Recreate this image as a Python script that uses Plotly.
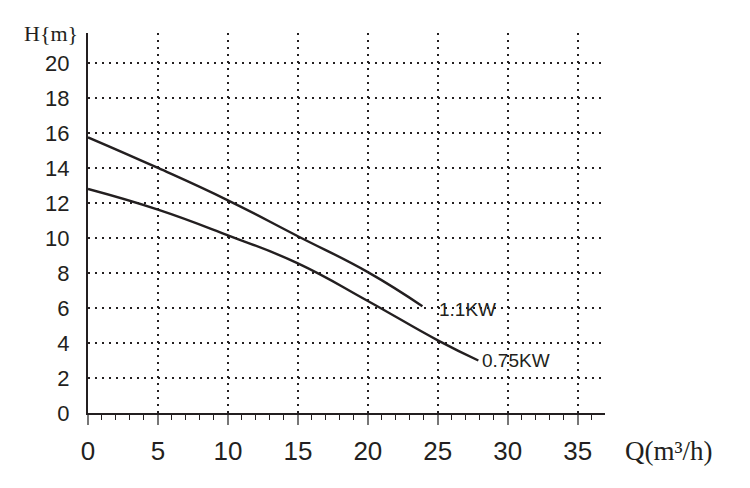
import plotly.graph_objects as go

# pump curves: flow Q (m3/h) vs head H (m)
q_11kw = [0, 5, 10, 15, 20, 23.9]
h_11kw = [15.75, 14.0, 12.15, 10.1, 8.05, 6.1]

q_075kw = [0, 5, 10, 15, 20, 25, 27.9]
h_075kw = [12.8, 11.62, 10.15, 8.55, 6.4, 4.15, 3.0]

curve_names = ["1.1KW", "0.75KW"]
x_ticks = [0, 5, 10, 15, 20, 25, 30, 35]
y_ticks = [0, 2, 4, 6, 8, 10, 12, 14, 16, 18, 20]

INK = "#231f20"

fig = go.Figure()
curves = [(q_11kw, h_11kw, curve_names[0], 15, -3),
          (q_075kw, h_075kw, curve_names[1], 2, 0)]
for q, h, name, dx, dy in curves:
    fig.add_trace(go.Scatter(
        x=q, y=h, mode="lines", name=name,
        line=dict(color=INK, width=2.4, shape="spline", smoothing=1.3),
        hoverinfo="x+y+name"
    ))
    # label at the end of each curve
    fig.add_annotation(
        x=q[-1], y=h[-1], text=name, showarrow=False,
        xanchor="left", yanchor="middle", xshift=dx, yshift=dy,
        font=dict(family="Liberation Sans, Arial", size=19, color=INK)
    )

# axis titles
fig.add_annotation(x=-0.015, y=1.0, xref="paper", yref="paper", text="H{m}",
                   showarrow=False, xanchor="right", yanchor="middle",
                   font=dict(family="Liberation Serif, serif", size=22, color=INK))
fig.add_annotation(x=1.035, y=-0.1, xref="paper", yref="paper", text="Q(m³/h)",
                   showarrow=False, xanchor="left", yanchor="middle",
                   font=dict(family="Liberation Serif, serif", size=27, color=INK))

fig.update_layout(
    width=750, height=488,
    margin=dict(l=80, r=153, t=25, b=83),
    paper_bgcolor="white", plot_bgcolor="white",
    showlegend=False,
    hovermode="closest",
    xaxis=dict(
        range=[0, 36.95], tickvals=x_ticks, ticktext=[str(v) for v in x_ticks],
        showline=True, linecolor=INK, linewidth=2,
        ticks="outside", ticklen=10, tickwidth=1.5, tickcolor="#777",
        minor=dict(dtick=1, ticks="outside", ticklen=5, tickwidth=1, tickcolor=INK, showgrid=False),
        showgrid=True, gridcolor=INK, gridwidth=2, griddash="2px,5px",
        zeroline=False, ticklabelstandoff=4,
        tickfont=dict(family="Liberation Sans, Arial", size=26, color=INK),
    ),
    yaxis=dict(
        range=[0, 21.71], tickvals=y_ticks,
        showline=True, linecolor=INK, linewidth=2,
        ticks="", showgrid=True, gridcolor=INK, gridwidth=2, griddash="2px,5px",
        zeroline=False, ticklabelstandoff=12,
        tickfont=dict(family="Liberation Sans, Arial", size=22, color=INK),
    ),
)

fig.write_html("out.html")
